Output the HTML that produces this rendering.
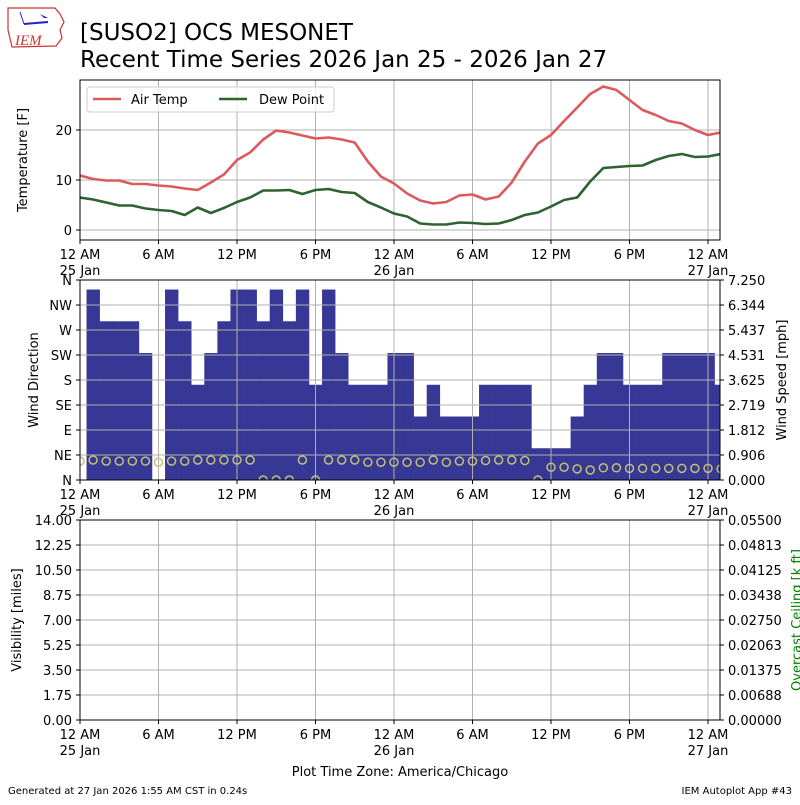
<!DOCTYPE html>
<html><head><meta charset="utf-8"><style>
body{margin:0;background:#fff;}
svg text{font-family:"DejaVu Sans","Liberation Sans",sans-serif;}
</style></head><body>
<svg id="c" width="800" height="800" viewBox="0 0 800 800" xmlns="http://www.w3.org/2000/svg">
<g>
<path d="M8 8 L55 8 L60 14 L64 22 L60 30 L62 38 L56 46 L12 47 L8 30 Z" fill="none" stroke="#c33" stroke-width="1.2"/>
<line x1="24" y1="24" x2="48" y2="22" stroke="#22c" stroke-width="2"/>
<line x1="20" y1="12" x2="24" y2="24" stroke="#22c" stroke-width="1"/>
<path d="M40 14 L48 18 L44 18 Z" fill="#22c"/>
<text x="15" y="45" font-size="15" fill="#c33" font-style="italic" style="font-family:'Liberation Serif',serif">IEM</text>
</g>
<text x="80" y="40" font-size="23">[SUSO2] OCS MESONET</text>
<text x="80" y="67" font-size="23">Recent Time Series 2026 Jan 25 - 2026 Jan 27</text>
<g id="g"></g>
<text x="400" y="776" font-size="13" text-anchor="middle">Plot Time Zone: America/Chicago</text>
<text x="8" y="794" font-size="10">Generated at 27 Jan 2026 1:55 AM CST in 0.24s</text>
<text x="792" y="794" font-size="10" text-anchor="end">IEM Autoplot App #43</text>
</svg>
<script>
const hours=[0,1,2,3,4,5,6,7,8,9,10,11,12,13,14,15,16,17,18,19,20,21,22,23,24,25,26,27,28,29,30,31,32,33,34,35,36,37,38,39,40,41,42,43,44,45,46,47,48,49];
const airTemp=[10.9,10.2,9.9,9.9,9.2,9.2,8.9,8.7,8.3,8.0,9.5,11.1,14.0,15.5,18.1,19.9,19.5,18.9,18.3,18.5,18.1,17.5,13.7,10.7,9.3,7.3,5.9,5.3,5.6,6.9,7.1,6.1,6.7,9.5,13.7,17.3,19.0,21.8,24.5,27.2,28.7,28.0,26.0,24.0,23.0,21.8,21.3,20.0,19.0,19.5];
const dewPoint=[6.5,6.1,5.5,4.9,4.9,4.3,4.0,3.8,3.0,4.5,3.4,4.4,5.6,6.5,7.9,7.9,8.0,7.2,8.0,8.2,7.6,7.4,5.6,4.5,3.3,2.7,1.3,1.1,1.1,1.5,1.4,1.2,1.3,2.0,3.0,3.5,4.7,6.0,6.5,9.7,12.4,12.6,12.8,12.9,14.0,14.8,15.2,14.6,14.7,15.2];
const windKt=[0,6,5,5,5,4,0,6,5,3,4,5,6,6,5,6,5,6,3,6,4,3,3,3,4,4,2,3,2,2,2,3,3,3,3,1,1,1,2,3,4,4,3,3,3,4,4,4,4,3];
const windDir=[34,36,34,34,34,34,32,34,34,36,36,36,36,36,0,0,0,36,0,36,36,36,32,32,32,32,32,36,32,34,34,35,36,36,35,0,23,23,20,18,22,22,21,21,21,21,21,21,21,20];
const tempTicks=[0,10,20];
const dirLabels=["N","NE","E","SE","S","SW","W","NW","N"];
const speedTicks=["0.000","0.906","1.812","2.719","3.625","4.531","5.437","6.344","7.250"];
const visTicks=["0.00","1.75","3.50","5.25","7.00","8.75","10.50","12.25","14.00"];
const ceilTicks=["0.00000","0.00688","0.01375","0.02063","0.02750","0.03438","0.04125","0.04813","0.05500"];
const xTickHours=[0,6,12,18,24,30,36,42,48];
const xTickLabels=["12 AM","6 AM","12 PM","6 PM","12 AM","6 AM","12 PM","6 PM","12 AM"];
const xTickDates={0:"25 Jan",24:"26 Jan",48:"27 Jan"};

const NS="http://www.w3.org/2000/svg";
const G=document.getElementById('g');
function el(t,a,txt){const e=document.createElementNS(NS,t);for(const k in a)e.setAttribute(k,a[k]);if(txt!==undefined)e.textContent=txt;G.appendChild(e);return e;}
const X0=80,X1=720,PXH=13.0833;
const x=h=>X0+h*PXH;
const yT=v=>230-5*v;
const P2T=280,P2B=480;
const ySpd=kt=>P2B-(kt*1.15078)/7.25*200;
const yDir=d=>P2B-d/360*200;
const P3T=520,P3B=720;
const GR="#b0b0b0";

const defs=el('defs',{});
const cp=document.createElementNS(NS,'clipPath');cp.setAttribute('id','cp2');
const cr=document.createElementNS(NS,'rect');cr.setAttribute('x',X0);cr.setAttribute('y',P2T);cr.setAttribute('width',X1-X0);cr.setAttribute('height',200);
cp.appendChild(cr);defs.appendChild(cp);
const cp1=document.createElementNS(NS,'clipPath');cp1.setAttribute('id','cp1');
const cr1=document.createElementNS(NS,'rect');cr1.setAttribute('x',X0);cr1.setAttribute('y',80);cr1.setAttribute('width',X1-X0);cr1.setAttribute('height',160);
cp1.appendChild(cr1);defs.appendChild(cp1);

function xAxis(top,bot,name){
  xTickHours.forEach((h,i)=>{
    const gl=el('line',{x1:x(h),x2:x(h),y1:top,y2:bot,stroke:GR,'stroke-width':1});
    
    
    el('line',{x1:x(h),x2:x(h),y1:bot,y2:bot+4,stroke:'#000'});
    const t=el('text',{x:x(h),y:bot+19,'font-size':13,'text-anchor':'middle'},xTickLabels[i]);
    
    
    if(xTickDates[h]){const d=el('text',{x:x(h),y:bot+35,'font-size':13,'text-anchor':'middle'},xTickDates[h]);
      
      }
  });
}

xAxis(80,240,'temp');
tempTicks.forEach(v=>{
  el('line',{x1:X0,x2:X1,y1:yT(v),y2:yT(v),stroke:GR});
  el('line',{x1:X0-4,x2:X0,y1:yT(v),y2:yT(v),stroke:'#000'});
  const t=el('text',{x:X0-8,y:yT(v)+5,'font-size':13,'text-anchor':'end'},String(v));
  
  
});
function line(vals,yf,col,name){
  const d=hours.map((h,i)=>(i?'L':'M')+x(h).toFixed(1)+' '+yf(vals[i]).toFixed(1)).join(' ');
  const p=el('path',{d:d,fill:'none',stroke:col,'stroke-width':2.6,'clip-path':'url(#cp1)','stroke-linejoin':'round'});
  
  
}
line(airTemp,yT,'#dc5a5f','air-temp-line');
line(dewPoint,yT,'#2e6331','dew-point-line');
el('rect',{x:X0,y:80,width:640,height:160,fill:'none',stroke:'#000'});
const lg=el('rect',{x:87,y:87,width:247,height:25,rx:3,fill:'#fff','fill-opacity':0.8,stroke:'#ccc'});


el('line',{x1:93,x2:121,y1:99,y2:99,stroke:'#dc5a5f','stroke-width':2.6});
const l1=el('text',{x:131,y:104,'font-size':13},'Air Temp');


el('line',{x1:219,x2:247,y1:99,y2:99,stroke:'#2e6331','stroke-width':2.6});
const l2=el('text',{x:259,y:104,'font-size':13},'Dew Point');


const yl1=el('text',{x:27,y:160,'font-size':13,'text-anchor':'middle',transform:'rotate(-90 27 160)'},'Temperature [F]');



hours.forEach((h,i)=>{
  if(windKt[i]<=0)return;
  const r=el('rect',{x:x(h-0.5),y:ySpd(windKt[i]),width:PXH+0.3,height:P2B-ySpd(windKt[i]),fill:'#373795','clip-path':'url(#cp2)'});
  
  
});
xAxis(P2T,P2B,'wind');
dirLabels.forEach((lab,i)=>{
  const y=P2B-i*25;
  el('line',{x1:X0,x2:X1,y1:y,y2:y,stroke:GR});
  el('line',{x1:X0-4,x2:X0,y1:y,y2:y,stroke:'#000'});
  el('line',{x1:X1,x2:X1+4,y1:y,y2:y,stroke:'#000'});
  const t=el('text',{x:X0-8,y:y+5,'font-size':13,'text-anchor':'end'},lab);
  
  
  const s=el('text',{x:X1+8,y:y+5,'font-size':13},speedTicks[i]);
  
  
});
hours.forEach((h,i)=>{
  const c=el('circle',{cx:x(h),cy:yDir(windDir[i]),r:4,fill:'none',stroke:'#c2c272','stroke-width':1.5,'clip-path':'url(#cp2)'});
  
  
});
el('rect',{x:X0,y:P2T,width:640,height:200,fill:'none',stroke:'#000'});
const yl2=el('text',{x:38,y:380,'font-size':13,'text-anchor':'middle',transform:'rotate(-90 38 380)'},'Wind Direction');


const yl3=el('text',{x:786,y:380,'font-size':13,'text-anchor':'middle',transform:'rotate(-90 786 380)'},'Wind Speed [mph]');



xAxis(P3T,P3B,'vis');
visTicks.forEach((lab,i)=>{
  const y=P3B-i*25;
  el('line',{x1:X0,x2:X1,y1:y,y2:y,stroke:GR});
  el('line',{x1:X0-4,x2:X0,y1:y,y2:y,stroke:'#000'});
  el('line',{x1:X1,x2:X1+4,y1:y,y2:y,stroke:'#000'});
  const t=el('text',{x:X0-8,y:y+5,'font-size':13,'text-anchor':'end'},lab);
  
  
  const s=el('text',{x:X1+8,y:y+5,'font-size':13},ceilTicks[i]);
  
  
});
el('rect',{x:X0,y:P3T,width:640,height:200,fill:'none',stroke:'#000'});
const yl4=el('text',{x:21,y:620,'font-size':13,'text-anchor':'middle',transform:'rotate(-90 21 620)'},'Visibility [miles]');


const yl5=el('text',{x:801,y:620,'font-size':13,'text-anchor':'middle',fill:'green',transform:'rotate(-90 801 620)'},'Overcast Ceiling [k ft]');


</script>
</body></html>
